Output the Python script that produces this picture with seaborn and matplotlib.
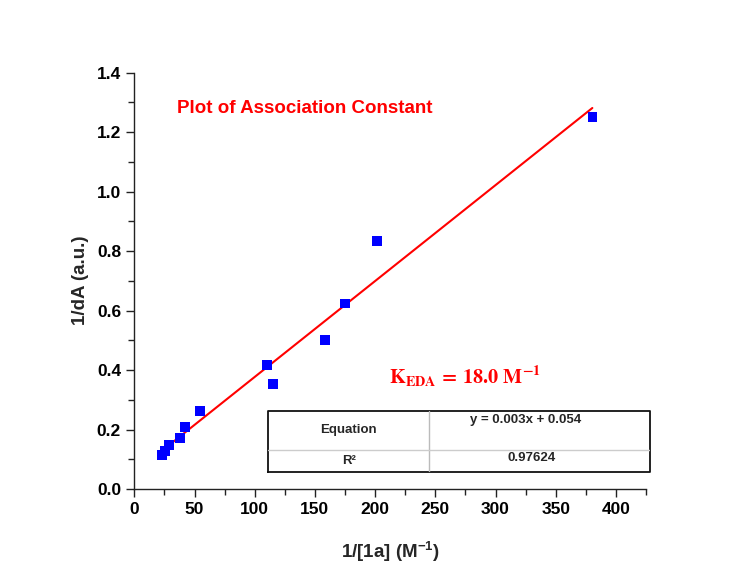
import numpy as np
import pandas as pd
import matplotlib
matplotlib.use("Agg")
import matplotlib.pyplot as plt
import seaborn as sns
from matplotlib.ticker import MultipleLocator

# ---- data ----
inv_conc = [23.2, 25.5, 28.8, 37.9, 42.1, 54.3, 110.4, 115.1, 158.3, 174.9, 201.7, 380.4]
inv_dA = [0.114, 0.128, 0.148, 0.172, 0.209, 0.263, 0.417, 0.353, 0.501, 0.624, 0.834, 1.252]
x_ticks = [0, 50, 100, 150, 200, 250, 300, 350, 400]
y_ticks = [0.0, 0.2, 0.4, 0.6, 0.8, 1.0, 1.2, 1.4]
title_text = "Plot of Association Constant"
k_text = r"$\mathbf{K_{EDA}\,{=}\,18.0\ M^{-1}}$"
eq_label = "Equation"
eq_value = "y = 0.003x + 0.054"
r2_label = "R\u00b2"
r2_value = "0.97624"

df = pd.DataFrame({"x": inv_conc, "y": inv_dA})

sns.set_theme(style="ticks")
plt.rcParams["font.family"] = ["Liberation Sans", "DejaVu Sans"]
plt.rcParams["font.weight"] = "bold"
plt.rcParams["mathtext.fontset"] = "custom"
plt.rcParams["mathtext.rm"] = "Liberation Sans:bold"
plt.rcParams["mathtext.bf"] = "Liberation Sans:bold"
plt.rcParams["mathtext.it"] = "Liberation Sans:bold"

fig = plt.figure(figsize=(7.38, 5.71), dpi=100, facecolor="white")
ax = fig.add_axes([0.182, 0.1436, 0.6934, 0.7291])
ax.set_facecolor("white")

sns.regplot(data=df, x="x", y="y", ci=None, scatter=False, ax=ax,
            line_kws=dict(color="#ff0000", lw=1.5, zorder=2))
sns.scatterplot(data=df, x="x", y="y", marker="s", s=48, color="#0000ff",
                edgecolor="none", ax=ax, zorder=3)

ax.set_xlim(0, 425)
ax.set_ylim(0, 1.4)
ax.set_xticks(x_ticks)
ax.set_yticks(y_ticks)
ax.set_xticklabels([f"{v:g}" for v in x_ticks])
ax.set_yticklabels([f"{v:.1f}" for v in y_ticks])
ax.xaxis.set_minor_locator(MultipleLocator(25))
ax.yaxis.set_minor_locator(MultipleLocator(0.1))
ax.tick_params(which="major", direction="out", length=6, width=1, color="#222222",
               labelsize=12.5, pad=3.5, labelcolor="black")
ax.tick_params(which="minor", direction="out", length=4, width=1, color="#222222")
for lab in ax.get_xticklabels() + ax.get_yticklabels():
    lab.set_fontweight("bold")
for side in ["top", "right"]:
    ax.spines[side].set_visible(False)
for side in ["left", "bottom"]:
    ax.spines[side].set_color("#222222")
    ax.spines[side].set_linewidth(1)

ax.set_xlabel(r"1/[1a] (M$^{\mathbf{-1}}$)", fontsize=13.5, fontweight="bold")
ax.set_ylabel("1/dA (a.u.)", fontsize=13.5, fontweight="bold")
ax.xaxis.set_label_coords(0.5, -0.122)
ax.yaxis.set_label_coords(-0.088, 0.502)

ax.text(0.084, 0.903, title_text, transform=ax.transAxes, color="#ff0000",
        fontsize=13.5, fontweight="bold", ha="left", va="baseline")
ax.text(0.497, 0.252, k_text, transform=ax.transAxes, color="#ff0000",
        fontsize=14.5, ha="left", va="baseline", math_fontfamily="stix")

# ---- statistics table ----
tax = fig.add_axes([0.3636, 0.1739, 0.517, 0.1068])
tax.set_xlim(0, 1)
tax.set_ylim(0, 1)
tax.set_axis_off()
tax.patch.set_visible(False)
split_x = (429.3 - 268.3) / (650 - 268.3)
split_y = (471.7 - 450) / 61
tax.plot([0, 1, 1, 0, 0], [0, 0, 1, 1, 0], color="#111111", lw=1.3, clip_on=False)
tax.plot([split_x, split_x], [0, 1], color="#bbbbbb", lw=1)
tax.plot([0, 1], [split_y, split_y], color="#cccccc", lw=1)
tax.text(split_x / 2, (1 + split_y) / 2, eq_label, ha="center", va="center",
         fontsize=9.5, fontweight="bold")
tax.text((526 - 268.3) / (650 - 268.3), 0.84, eq_value, ha="center", va="center",
         fontsize=9.5, fontweight="bold")
tax.text(split_x / 2, split_y / 2, r2_label, ha="center", va="center",
         fontsize=9.5, fontweight="bold")
tax.text((532 - 268.3) / (650 - 268.3), split_y / 2 + 0.04, r2_value, ha="center",
         va="center", fontsize=9.5, fontweight="bold")

fig.savefig("out.png", dpi=100, facecolor="white")
